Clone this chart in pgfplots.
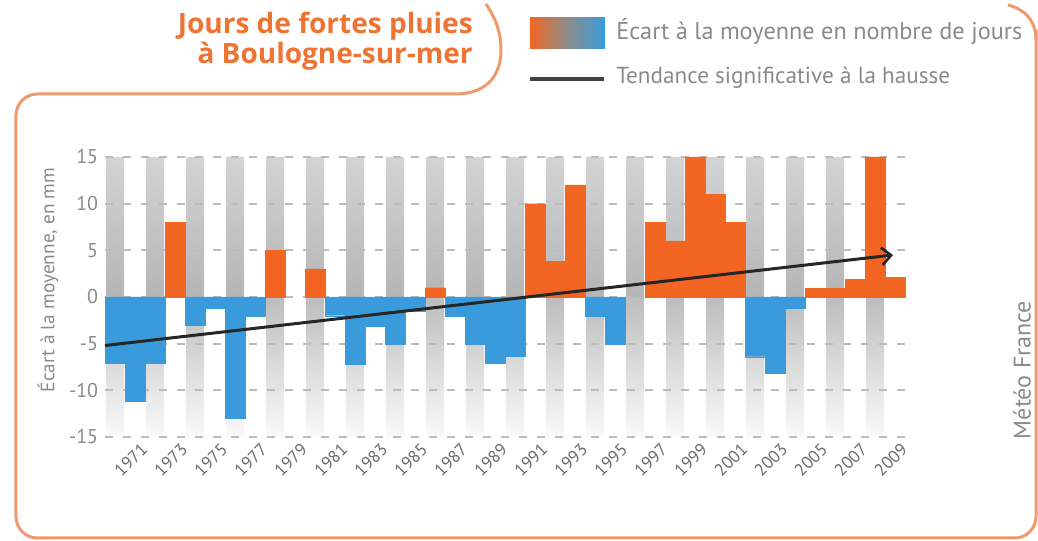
\documentclass[border=0pt]{standalone}
\usepackage{pgfplots}
\pgfplotsset{compat=1.18}
\usepackage{pgfplotstable}
\usepackage{fontspec}
\setmainfont{PT Sans}
\newfontfamily\titlefont{Open Sans}
\usetikzlibrary{arrows.meta}
\definecolor{barorange}{HTML}{F26522}
\definecolor{barblue}{HTML}{3A9BDC}
\definecolor{titleorange}{HTML}{EE7434}
\definecolor{frameorange}{HTML}{F0996C}
\definecolor{txtgray}{HTML}{8A8A8A}
\definecolor{gridgray}{HTML}{BBBBBB}

\pgfplotstableread{
year val
1973 8
1978 5
1980 3
1986 1
1991 10
1992 3.8
1993 12
1997 8
1998 6
1999 15
2000 11
2001 8
2005 0.9
2006 0.9
2007 1.9
2008 15
2009 2.1
}\posdata

\pgfplotstableread{
year val
1970 -7.1
1971 -11.2
1972 -7.1
1974 -3
1975 -1.2
1976 -13
1977 -2.1
1981 -2
1982 -7.2
1983 -3.1
1984 -5.1
1985 -1.5
1987 -2.1
1988 -5.1
1989 -7.1
1990 -6.3
1994 -2.1
1995 -5.1
2002 -6.4
2003 -8.2
2004 -1.2
}\negdata

\pgfplotstableread{
year top bot
1970 15 -15
1972 15 -15
1974 15 -15
1976 15 -15
1978 15 -15
1980 15 -15
1982 15 -15
1984 15 -15
1986 15 -15
1988 15 -15
1990 15 -15
1992 15 -15
1994 15 -15
1996 15 -15
1998 15 -15
2000 15 -15
2002 15 -15
2004 15 -15
2006 15 -15
2008 15 -15
}\stripes

\begin{document}
\begin{tikzpicture}
\begin{scope}[shift={(-78.75pt,327.75pt)}, x=0.75pt, y=-0.75pt]
\useasboundingbox (0,0) rectangle (1038,541);
% frame
\draw[frameorange, line width=2.25pt, rounded corners=16pt]
  (455,94) -- (16,94) -- (16,538) -- (1036,538) -- (1036,30);
\draw[frameorange, line width=2.25pt]
  (455,94) .. controls (490,94) and (501,72) .. (501,50)
           .. controls (501,30) and (494,16) .. (486,4);
\draw[frameorange, line width=2.25pt]
  (1008,5) .. controls (1024,9) and (1036,20) .. (1036,40);
% title
\node[anchor=base east, inner sep=0pt, text=titleorange, font=\titlefont\bfseries\fontsize{21}{21}\selectfont] at (473,34) {Jours de fortes pluies};
\node[anchor=base east, inner sep=0pt, text=titleorange, font=\titlefont\bfseries\fontsize{21}{21}\selectfont] at (473,64) {à Boulogne-sur-mer};
% legend
\shade[left color=barorange, right color=barblue, middle color=black!45] (530,18) rectangle (605,49);
\draw[line width=3pt, black!75] (530,79) -- (604,79);
\node[anchor=base west, inner sep=0pt, text=txtgray, font=\fontsize{18.2}{18}\selectfont] at (616,40) {Écart à la moyenne en nombre de jours};
\node[anchor=base west, inner sep=0pt, text=txtgray, font=\fontsize{17.4}{18}\selectfont] at (616,84) {Tendance significative à la hausse};
% axis title and source
\node[rotate=90, inner sep=0pt, text=txtgray, font=\fontsize{14.5}{14.5}\selectfont] at (48,280) {Écart à la moyenne, en mm};
\node[rotate=90, inner sep=0pt, text=txtgray, font=\fontsize{18}{18}\selectfont] at (1022,370) {Météo France};
\end{scope}

\begin{axis}[
  at={(0,0)}, anchor=south west,
  scale only axis, width=600pt, height=210pt,
  set layers,
  xmin=1969.5, xmax=2009.5, ymin=-15, ymax=15,
  axis line style={draw=none},
  major tick length=0pt,
  ytick={-15,-10,-5,0,5,10,15},
  yticklabels={-15,-10,-5,0,5,10,15},
  xtick={1971,1973,...,2009},
  /pgf/number format/1000 sep={},
  /pgf/number format/assume math mode=true,
  ymajorgrids,
  grid style={gridgray, line width=1.5pt, dash pattern=on 6pt off 7.5pt},
  xticklabel style={rotate=45, anchor=north east, inner sep=0pt, yshift=-5pt, xshift=0pt, text=black!58, font=\fontsize{13}{13}\selectfont},
  yticklabel style={anchor=east, inner sep=0pt, xshift=-5pt, text=txtgray, font=\fontsize{15}{15}\selectfont},
  clip=false,
]
\addplot[ybar, bar width=0.9, bar shift=0pt, draw=none, top color=black!17, bottom color=black!29, on layer=axis background] table[x=year, y=top] {\stripes};
\addplot[ybar, bar width=0.9, bar shift=0pt, draw=none, top color=black!26, bottom color=black!2, on layer=axis background] table[x=year, y=bot] {\stripes};
\addplot[ybar, bar width=1, bar shift=0pt, fill=barorange, draw=barorange, line width=0.2pt] table[x=year, y=val] {\posdata};
\addplot[ybar, bar width=1, bar shift=0pt, fill=barblue, draw=barblue, line width=0.2pt] table[x=year, y=val] {\negdata};
\addplot[line width=2.25pt, color=black!85, -{Straight Barb[length=7pt, width=13pt, line width=2pt]}] coordinates {(1969.5,-5.2) (2008.9,4.5)};
\end{axis}
\end{tikzpicture}
\end{document}
